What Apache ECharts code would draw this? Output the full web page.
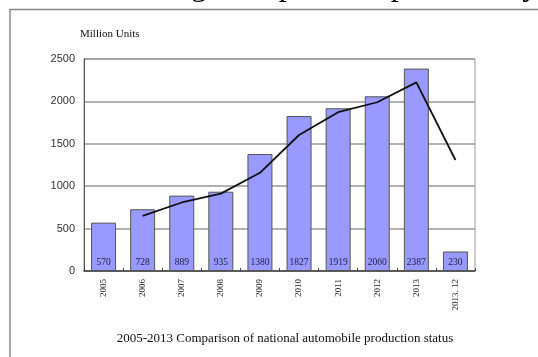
<!DOCTYPE html>
<html>
<head>
<meta charset="utf-8">
<script src="https://cdn.jsdelivr.net/npm/echarts@6/dist/echarts.min.js"></script>
<style>
  html, body { margin: 0; padding: 0; background: #fff; }
  #chart { width: 538px; height: 357px; }
</style>
</head>
<body>
<div id="chart"></div>
<script>
// data
const years = ['2005', '2006', '2007', '2008', '2009', '2010', '2011', '2012', '2013', '2013. 12'];
const production = [570, 728, 889, 935, 1380, 1827, 1919, 2060, 2387, 230];
const trend = [null, 649, 808, 912, 1158, 1604, 1873, 1990, 2224, 1309];
const yTicks = [0, 500, 1000, 1500, 2000, 2500];

const serif = '"Liberation Serif", "DejaVu Serif", serif';

const chart = echarts.init(document.getElementById('chart'));

const option = {
    backgroundColor: '#fff',
    animation: false,
    title: {
        text: '2005-2013 Comparison of national automobile production status',
        left: 280,
        textAlign: 'center',
        top: 327,
        textStyle: { fontFamily: serif, fontSize: 13, fontWeight: 'normal', color: '#111' }
    },
    graphic: [
        // cut-off body text above the figure
        {
            type: 'text', left: -2, top: -29, silent: true,
            style: { text: 'e manufacturing enterprises is particularly', font: '32px ' + serif, fill: '#000' }
        },
        // figure frame
        {
            type: 'polyline', silent: true,
            shape: { points: [[10, 357], [10, 9.5], [538, 9.5]] },
            style: { stroke: '#8a8a8a', lineWidth: 1.5, fill: null }
        },
        {
            type: 'text', left: 80, top: 29, silent: true,
            style: { text: 'Million Units', font: '11px ' + serif, fill: '#111' }
        }
    ],
    grid: { left: 84, right: 63, top: 59, bottom: 86, show: true, borderColor: '#999', borderWidth: 1 },
    xAxis: {
        type: 'category',
        data: years,
        axisLine: { lineStyle: { color: '#444', width: 1.5 } },
        axisTick: { show: true, inside: true, length: 3, lineStyle: { color: '#444' } },
        axisLabel: { rotate: 90, fontFamily: serif, fontSize: 9, color: '#222', margin: 8 }
    },
    yAxis: {
        type: 'value',
        min: yTicks[0],
        max: yTicks[yTicks.length - 1],
        interval: 500,
        axisLine: { show: true, lineStyle: { color: '#555', width: 1 } },
        axisTick: { show: false },
        axisLabel: {
            formatter: v => String(v),
            fontFamily: 'Arial, "Liberation Sans", sans-serif', fontSize: 11, color: '#333', margin: 9
        },
        splitLine: { lineStyle: { color: '#999', width: 1.5 } }
    },
    series: [
        {
            type: 'bar',
            data: production,
            barWidth: 25,
            itemStyle: { color: '#9999ff', borderColor: '#555', borderWidth: 1 },
            label: {
                show: true, position: 'insideBottom', distance: 4,
                fontFamily: serif, fontSize: 9.5, color: '#222244'
            }
        },
        {
            type: 'line',
            data: trend,
            symbol: 'none',
            lineStyle: { color: '#111', width: 1.8 },
            z: 5
        }
    ]
};

chart.setOption(option);
</script>
</body>
</html>
